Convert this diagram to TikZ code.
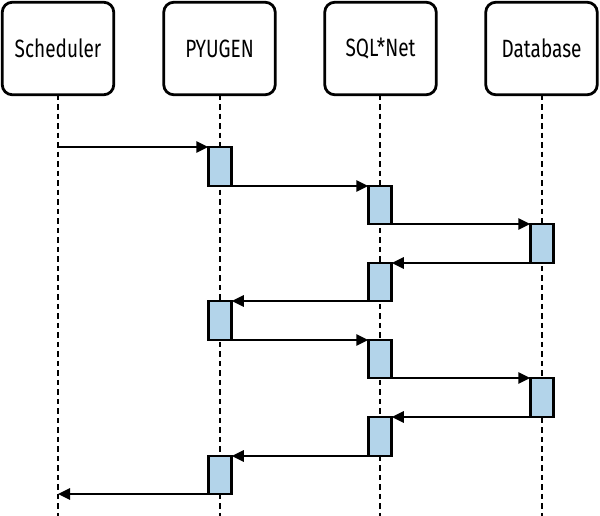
\documentclass[tikz,border=0pt]{standalone}
\usepackage{fontspec}
\setmainfont{Fira Sans}[FakeStretch=0.76]
\usetikzlibrary{arrows.meta}
\definecolor{actfill}{RGB}{179,212,234}
\begin{document}
\begin{tikzpicture}[x=1pt,y=-1pt,
 head/.style={draw, line width=2.8pt, rounded corners=10pt, minimum width=111.5pt, minimum height=92.5pt, font=\fontsize{25}{28}\selectfont, inner sep=0pt, outer sep=0pt},
 life/.style={line width=2.6pt, dash pattern=on 5.5pt off 4pt},
 act/.style={draw, fill=actfill, line width=2.6pt, minimum width=23.5pt, minimum height=#1, inner sep=0pt, outer sep=0pt, anchor=north},
 act/.default=38pt,
 msg/.style={line width=2.6pt, -{Triangle[length=12pt,width=11pt]}}]
\useasboundingbox (0,0) rectangle (600,516);
\node[head] (s) at (58,48.5) {Scheduler};
\node[head] (p) at (219.5,48.5) {PYUGEN};
\node[head] (q) at (380.5,48.5) {SQL*Net};
\node[head] (d) at (541.5,48.5) {Database};
\coordinate (sb) at (58,516);
\coordinate (pb) at (220,516);
\coordinate (qb) at (380,516);
\coordinate (db) at (542,516);
\draw[life] (s.south -| sb) -- (sb);
\draw[life] (p.south -| pb) -- (pb);
\draw[life] (q.south -| qb) -- (qb);
\draw[life] (d.south -| db) -- (db);
\node[act=39pt] (a1) at (220,147) {};
\node[act=38pt] (a2) at (380,186) {};
\node[act=39pt] (a3) at (542,224) {};
\node[act=38pt] (a4) at (380,263) {};
\node[act=39pt] (a5) at (220,301) {};
\node[act=38pt] (a6) at (380,340) {};
\node[act=39pt] (a7) at (542,378) {};
\node[act=39pt] (a8) at (380,417) {};
\node[act=38pt] (a9) at (220,456) {};
\coordinate (c0) at (58,147);
\coordinate (c1) at (58,494);
\draw[msg] (c0) -- (a1.north west);
\draw[msg] (a1.south east) -- (a2.north west);
\draw[msg] (a2.south east) -- (a3.north west);
\draw[msg] (a3.south west) -- (a4.north east);
\draw[msg] (a4.south west) -- (a5.north east);
\draw[msg] (a5.south east) -- (a6.north west);
\draw[msg] (a6.south east) -- (a7.north west);
\draw[msg] (a7.south west) -- (a8.north east);
\draw[msg] (a8.south west) -- (a9.north east);
\draw[msg] (a9.south west) -- (c1);
\end{tikzpicture}
\end{document}
